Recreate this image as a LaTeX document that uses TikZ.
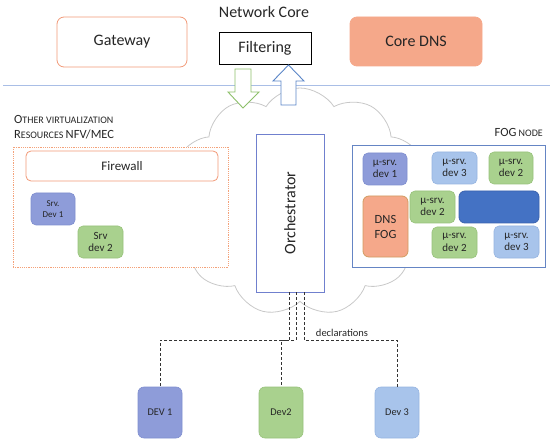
\documentclass[tikz,border=0pt]{standalone}
\usepackage{fontspec}
\setmainfont{Carlito}
\usetikzlibrary{shapes.symbols,calc}
\definecolor{orangeb}{HTML}{F29A78}
\definecolor{dotor}{HTML}{F4A27A}
\definecolor{salmon}{HTML}{F5A88A}
\definecolor{lineblue}{HTML}{A9BEE6}
\definecolor{arrgreen}{HTML}{8DC06A}
\definecolor{arrblue}{HTML}{5B86C8}
\definecolor{orchb}{HTML}{7080CE}
\definecolor{fogb}{HTML}{6585C4}
\definecolor{purp}{HTML}{8E9CD9}
\definecolor{purpb}{HTML}{7F8ECF}
\definecolor{grn}{HTML}{A9D18E}
\definecolor{grnb}{HTML}{97C27B}
\definecolor{lblue}{HTML}{A8C4EB}
\definecolor{lblueb}{HTML}{96B4E0}
\definecolor{dblue}{HTML}{4472C4}
\definecolor{dblueb}{HTML}{3A62AE}
\definecolor{cloudg}{HTML}{C8C8C8}
\definecolor{txt}{HTML}{262626}
\newcommand\fsc[2]{{\fontsize{12.5}{14}\selectfont #1}{\fontsize{10}{14}\selectfont #2}}
\tikzset{
  bx/.style={draw, inner sep=0pt, align=center, text=txt},
  topbox/.style={bx, rounded corners=7pt, line width=0.8pt, font=\fontsize{16}{18}\selectfont},
  small/.style={bx, rounded corners=5pt, line width=0.6pt, font=\fontsize{11}{12.5}\selectfont},
  tiny/.style={bx, rounded corners=5pt, line width=0.6pt, font=\fontsize{9}{10.5}\selectfont},
  devbox/.style={bx, rounded corners=6pt, line width=0.6pt, minimum width=44pt, minimum height=51pt, font=\fontsize{10.3}{12}\selectfont},
  pur/.style={fill=purp, draw=purpb},
  gr/.style={fill=grn, draw=grnb},
  lb/.style={fill=lblue, draw=lblueb},
  dashline/.style={draw=black!80, line width=0.9pt, dash pattern=on 3pt off 2pt},
}
\begin{document}
\begin{tikzpicture}[x=1pt,y=-1pt]
\useasboundingbox (0,0) rectangle (550,444);
% cloud
\node[cloud, draw=cloudg, line width=0.8pt, cloud puffs=11, cloud puff arc=115, aspect=1.15, minimum width=262pt, minimum height=228pt, inner sep=0pt] (cloud) at (300,202) {};
% top
\node[font=\fontsize{16}{18}\selectfont, text=txt] (netcore) at (264,12) {Network Core};
\node[topbox, draw=orangeb, fill=white, minimum width=130pt, minimum height=50pt] (gw) at (122,42) {Gateway};
\node[bx, draw=black, line width=0.8pt, fill=white, minimum width=92pt, minimum height=32pt, font=\fontsize{16}{18}\selectfont] (filt) at (265,48) {\raisebox{-2pt}{Filtering}};
\node[topbox, draw=salmon, fill=salmon, minimum width=132pt, minimum height=49pt] (cdns) at (416,41.5) {Core DNS};
\coordinate (l1) at (3,85);
\coordinate (l2) at (550,85);
\draw[lineblue, line width=0.8pt] (l1) -- (l2);
% arrows
\draw[arrgreen, line width=0.9pt, fill=white, line join=miter] (235,69) -- (251,69) -- (251,92) -- (259,92) -- (243,108) -- (228,92) -- (235,92) -- cycle;
\draw[arrblue, line width=0.9pt, fill=white, line join=miter] (281,105) -- (296,105) -- (296,81) -- (304,81) -- (288.5,65) -- (273,81) -- (281,81) -- cycle;
% left group
\node[anchor=west, text=txt, inner sep=0pt] (lab1) at (14,119) {\fsc{O}{THER VIRTUALIZATION}};
\node[anchor=west, text=txt, inner sep=0pt] (lab2) at (14,134) {\fsc{R}{ESOURCES} \fsc{NFV/MEC}{}};
\node[draw=dotor, fill=white, line width=0.9pt, dash pattern=on 1.2pt off 1pt, minimum width=215pt, minimum height=120pt, inner sep=0pt] (virt) at (120.5,207) {};
\node[small, draw=orangeb, fill=white, line width=0.8pt, minimum width=192pt, minimum height=30pt, font=\fontsize{13}{15}\selectfont] (fw) at (122,166) {Firewall};
\node[tiny, pur, minimum width=44pt, minimum height=32pt] (srv1) at (53,209) {Srv.\\Dev 1};
\node[small, gr, minimum width=45pt, minimum height=32pt] (srv2) at (100.5,242) {Srv\\dev 2};
% orchestrator
\node[bx, draw=orchb, fill=white, line width=0.8pt, minimum width=68pt, minimum height=158pt] (orch) at (290,213) {};
\node[rotate=90, font=\fontsize{16}{18}\selectfont, text=txt] (orchtxt) at (orch.center) {Orchestrator};
% fog
\node[anchor=east, text=txt, inner sep=0pt] (foglab) at (543,132) {\fsc{FOG}{ NODE}};
\node[bx, draw=fogb, fill=white, line width=0.8pt, minimum width=193pt, minimum height=122pt] (fog) at (448.5,206) {};
\node[small, pur, minimum width=44pt, minimum height=32pt] (mu1) at (385,169) {µ-srv.\\dev 1};
\node[small, lb, minimum width=45pt, minimum height=32pt] (mu3a) at (454.5,168) {µ-srv.\\dev 3};
\node[small, gr, minimum width=44pt, minimum height=32pt] (mu2a) at (511,168) {µ-srv.\\dev 2};
\node[bx, rounded corners=6pt, fill=salmon, draw=salmon!70!olive, line width=0.8pt, minimum width=45pt, minimum height=61pt, font=\fontsize{12.5}{15}\selectfont] (dnsfog) at (385.5,226.5) {DNS\\FOG};
\node[small, gr, minimum width=45pt, minimum height=32pt] (mu2b) at (432.5,207) {µ-srv.\\dev 2};
\node[bx, rounded corners=6pt, fill=dblue, draw=dblueb, line width=0.8pt, minimum width=80pt, minimum height=32pt] (bar) at (499,207) {};
\node[small, gr, minimum width=45pt, minimum height=31pt] (mu2c) at (454.5,242.5) {µ-srv.\\dev 2};
\node[small, lb, minimum width=45pt, minimum height=32pt] (mu3b) at (516.5,242) {µ-srv.\\dev 3};
% devices
\node[devbox, pur] (dev1) at (160,412.5) {DEV 1};
\node[devbox, gr] (dev2) at (281,412.5) {Dev2};
\node[devbox, lb] (dev3) at (397,412.5) {Dev 3};
% dashed connectors
\draw[dashline] ([xshift=-1pt]orch.south) -- ++(0,48) -| (dev1.north);
\draw[dashline] ([xshift=6pt]orch.south) -- ++(0,48) -| (dev2.north);
\draw[dashline] ([xshift=14pt]orch.south) -- ++(0,48) -| (dev3.north);
\node[font=\fontsize{10.5}{12}\selectfont, text=txt] (decl) at (342,333) {declarations};
\end{tikzpicture}
\end{document}
